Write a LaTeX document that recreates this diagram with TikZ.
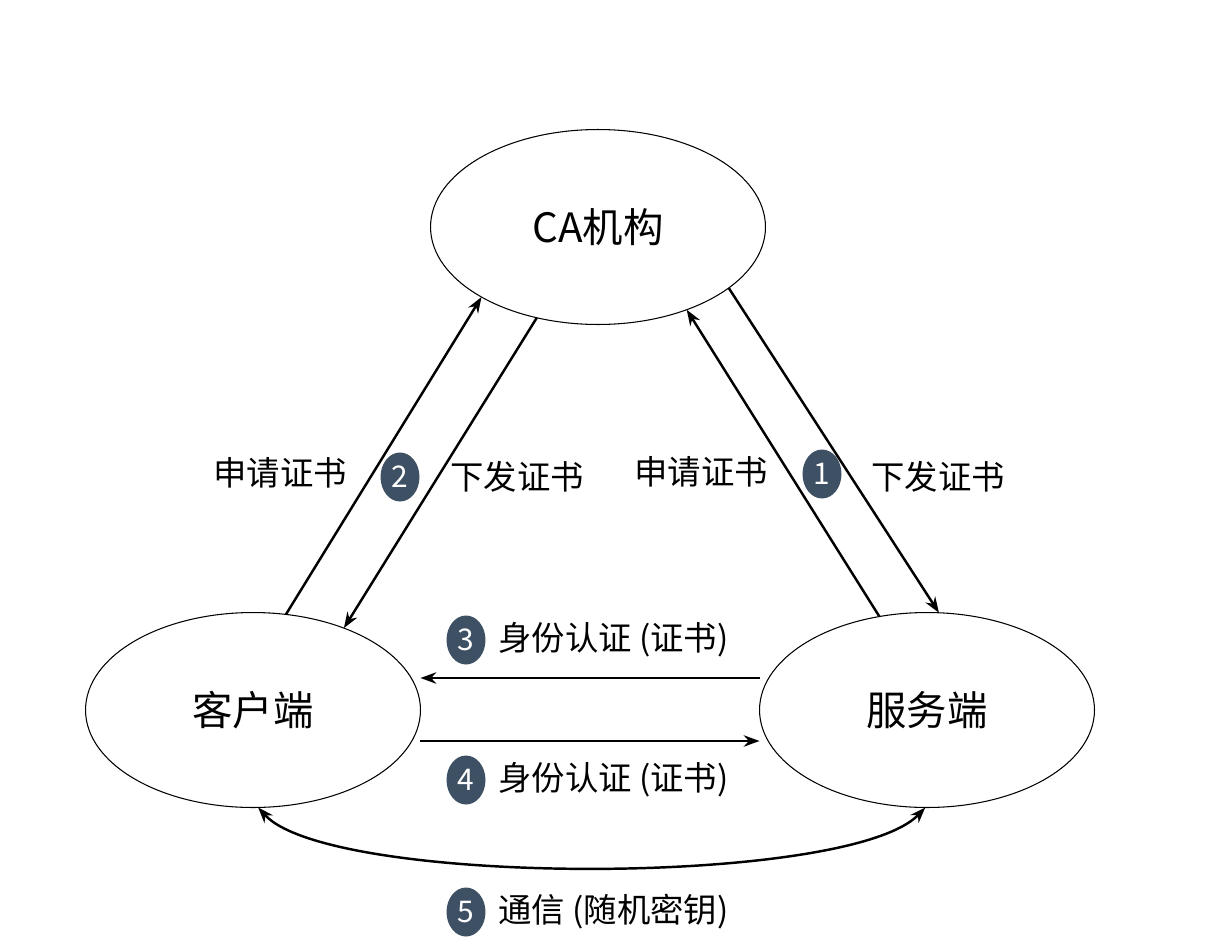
\documentclass[tikz,border=0pt]{standalone}
\usepackage{fontspec}
\setmainfont{Noto Sans CJK SC}
\usetikzlibrary{arrows.meta,shapes.geometric}
\definecolor{badge}{HTML}{3E5063}
\tikzset{
  party/.style={ellipse,draw=black,line width=0.6pt,minimum width=6.7cm,minimum height=3.9cm,inner sep=0pt,outer sep=0pt,font=\fontsize{23}{26}\selectfont},
  flow/.style={line width=1.4pt,-{Stealth[length=9pt,width=6.5pt]}},
  both/.style={line width=1.4pt,{Stealth[length=9pt,width=6.5pt]}-{Stealth[length=9pt,width=6.5pt]}},
  lbl/.style={inner sep=0pt,font=\fontsize{19}{22}\selectfont},
  num/.style={ellipse,fill=badge,text=white,inner sep=0pt,minimum width=0.78cm,minimum height=0.98cm,font=\fontsize{17}{20}\selectfont}
}
\begin{document}
\begin{tikzpicture}[x=0.02cm,y=-0.02cm]
\useasboundingbox (0,0) rectangle (1206,946);
\node[party] (ca) at (598,227) {CA机构};
\node[party] (cl) at (253,710) {客户端};
\node[party] (sv) at (927,710) {服务端};

\draw[flow] (cl.71) -- (ca.211);
\draw[flow] (ca.236) -- (cl.42);
\draw[flow] (sv.117) -- (ca.-43);
\draw[flow] (ca.-25) -- (sv.83);
\draw[flow] ([yshift=0.64cm]sv.west) -- ([yshift=0.64cm]cl.east);
\draw[flow] ([yshift=-0.62cm]cl.east) -- ([yshift=-0.62cm]sv.west);
\draw[both] (cl.-87) .. controls (330,887) and (850,887) .. (sv.-91);

\node[lbl] (t1) at (280,473) {申请证书};
\node[num] (n2) at (400,477) {2};
\node[lbl] (t2) at (517,477) {下发证书};
\node[lbl] (t3) at (701,472) {申请证书};
\node[num] (n1) at (822,474) {1};
\node[lbl] (t4) at (938,477) {下发证书};
\node[num] (n3) at (466,640) {3};
\node[lbl,anchor=west] (t5) at (498,640) {身份认证 (证书)};
\node[num] (n4) at (466,780) {4};
\node[lbl,anchor=west] (t6) at (498,780) {身份认证 (证书)};
\node[num] (n5) at (466,912) {5};
\node[lbl,anchor=west] (t7) at (498,912) {通信 (随机密钥)};
\end{tikzpicture}
\end{document}
